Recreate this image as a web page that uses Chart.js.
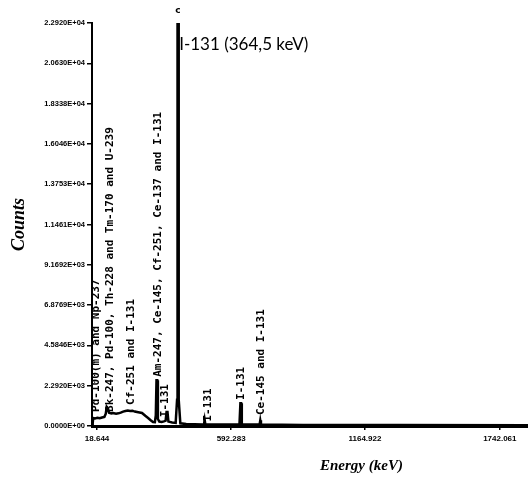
<!DOCTYPE html>
<html>
<head>
<meta charset="utf-8">
<script src="https://cdn.jsdelivr.net/npm/chart.js@4/dist/chart.umd.min.js"></script>
<style>
    html, body { margin: 0; padding: 0; background: #fff; }
    #wrap { width: 528px; height: 480px; position: relative; }
</style>
</head>
<body>
<div id="wrap"><canvas id="chart"></canvas></div>
<script>
// spectrum (energy in keV, counts)
const energies = [-3, 0, 2, 10, 20, 30, 40, 50, 56, 60, 64, 70, 80, 87, 100, 110, 120, 130, 140, 150, 160, 170, 180, 195, 211, 225, 237, 248, 258, 266, 270, 273, 276, 279, 285, 295, 305, 312, 316, 320, 324, 340, 355, 361, 363, 366, 368, 375, 400, 470, 476, 479, 482, 600, 628, 632, 635, 638, 700, 714, 717, 720, 900, 1300, 1863];
const counts = [80, 150, 450, 430, 470, 440, 480, 520, 700, 1080, 1000, 760, 720, 740, 700, 720, 760, 820, 850, 880, 850, 870, 820, 780, 740, 580, 455, 330, 230, 220, 600, 2600, 2600, 400, 250, 230, 260, 300, 800, 800, 250, 200, 180, 1500, 22923, 22923, 1500, 150, 110, 90, 90, 350, 90, 80, 90, 1300, 1300, 90, 80, 80, 320, 80, 60, 50, 40];

const yTickValues = [0, 2292.3, 4584.6, 6876.9, 9169.2, 11461.5, 13753.8, 16046.1, 18338.4, 20630.7, 22923];
const yTickLabels = ["0.0000E+00", "2.2920E+03", "4.5846E+03", "6.8769E+03", "9.1692E+03", "1.1461E+04", "1.3753E+04", "1.6046E+04", "1.8338E+04", "2.0630E+04", "2.2920E+04"];
const xTickValues = [18.644, 592.283, 1164.922, 1742.061];
const xTickLabels = ["18.644", "592.283", "1164.922", "1742.061"];

// vertical peak labels: text, energy, counts at the start of the text
const peakLabelTexts = [
    "Pd-100(m) and Np-237",
    "Bk-247, Pd-100, Th-228 and Tm-170 and U-239",
    "Cf-251 and I-131",
    "Am-247, Ce-145, Cf-251, Ce-137 and I-131",
    "I-131",
    "I-131",
    "I-131",
    "Ce-145 and I-131",
];
const peakLabelEnergies = [14, 74, 164, 280, 310, 494, 635, 720];
const peakLabelCounts = [800, 800, 1200, 2800, 500, 250, 1480, 620];

const mainPeakText = "I-131 (364,5 keV)";
const mainPeakEnergy = 370;
const mainPeakCounts = 21700;

const X_MIN = -3;
const X_MAX = 1862.6;

const peakLabelsPlugin = {
    id: "peakLabels",
    afterDatasetsDraw(chart) {
        const { ctx } = chart;
        const xs = chart.scales.x;
        const ys = chart.scales.y;
        ctx.save();
        ctx.fillStyle = "#000";
        ctx.font = "bold 11px 'DejaVu Sans Mono'";
        ctx.textAlign = "left";
        ctx.textBaseline = "middle";
        peakLabelTexts.forEach((text, i) => {
            const px = xs.getPixelForValue(peakLabelEnergies[i]);
            const py = ys.getPixelForValue(peakLabelCounts[i]);
            ctx.save();
            ctx.translate(px, py);
            ctx.rotate(-Math.PI / 2);
            ctx.fillText(text, 0, 0);
            ctx.restore();
        });

        // big label of the main peak
        ctx.font = "17px Lato";
        ctx.fillText(
            mainPeakText,
            xs.getPixelForValue(mainPeakEnergy),
            ys.getPixelForValue(mainPeakCounts)
        );

        // little mark above the main peak
        ctx.font = "bold 9px 'DejaVu Sans'";
        ctx.textAlign = "center";
        ctx.fillText("c", xs.getPixelForValue(364.5), ys.getPixelForValue(23650));

        // x axis title, placed under the middle of the axis labels
        ctx.font = "italic bold 15px 'Liberation Serif'";
        ctx.textBaseline = "alphabetic";
        ctx.fillText("Energy (keV)", xs.getPixelForValue(1150), 470);
        ctx.restore();
    },
};

const ctx = document.getElementById("chart").getContext("2d");
const chart = new Chart(ctx, {
    type: "line",
    data: {
        datasets: [
            {
                label: "Counts",
                data: energies.map((e, i) => ({ x: e, y: counts[i] })),
                borderColor: "#000",
                borderWidth: 2.5,
                pointRadius: 0,
                tension: 0,
                fill: false,
            },
        ],
    },
    options: {
        responsive: true,
        maintainAspectRatio: false,
        animation: false,
        layout: { padding: { top: 23, right: 0, left: 0, bottom: 0 } },
        plugins: {
            legend: { display: false },
            tooltip: { enabled: false },
        },
        scales: {
            x: {
                type: "linear",
                min: X_MIN,
                max: X_MAX,
                afterBuildTicks: (scale) => {
                    scale.ticks = xTickValues.map((v) => ({ value: v }));
                },
                afterFit: (scale) => {
                    scale.height = 54;
                },
                ticks: {
                    color: "#000",
                    font: { family: "'Liberation Sans'", size: 8, weight: "bold" },
                    maxRotation: 0,
                    padding: 4,
                    callback: (value, idx) => xTickLabels[idx],
                },
                grid: {
                    drawOnChartArea: false,
                    drawTicks: true,
                    tickLength: 4,
                    color: "#000",
                    lineWidth: 1.5,
                },
                border: { display: true, color: "#000", width: 3 },
            },
            y: {
                type: "linear",
                min: 0,
                max: 22923,
                afterBuildTicks: (scale) => {
                    scale.ticks = yTickValues.map((v) => ({ value: v }));
                },
                afterFit: (scale) => {
                    scale.width = 92;
                },
                ticks: {
                    color: "#000",
                    font: { family: "'Liberation Sans'", size: 7.5, weight: "bold" },
                    padding: 2,
                    callback: (value, idx) => yTickLabels[idx],
                },
                grid: {
                    drawOnChartArea: false,
                    drawTicks: true,
                    tickLength: 5,
                    color: "#000",
                    lineWidth: 1.5,
                },
                border: { display: true, color: "#000", width: 2 },
                title: {
                    display: true,
                    text: "Counts",
                    color: "#000",
                    font: { family: "'Liberation Serif'", size: 18, style: "italic", weight: "bold" },
                    padding: { top: 9, bottom: 0 },
                },
            },
        },
    },
    plugins: [peakLabelsPlugin],
});
</script>
</body>
</html>
